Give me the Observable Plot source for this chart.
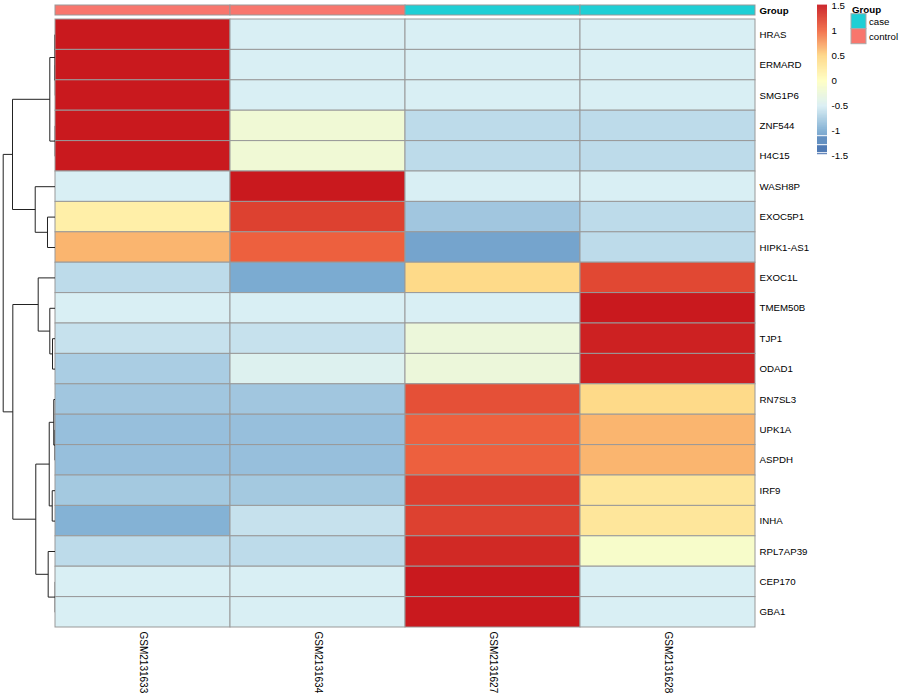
<!DOCTYPE html>
<html><head><meta charset="utf-8">
<script src="https://cdn.jsdelivr.net/npm/d3@7"></script>
<script src="https://cdn.jsdelivr.net/npm/@observablehq/plot@0.6"></script>
<style>
html,body{margin:0;padding:0;background:#fff;}
#chart{position:relative;width:900px;height:700px;font-family:"Liberation Sans",Arial,sans-serif;}
#chart > svg{position:absolute;left:0;top:0;}
</style></head><body><div id="chart"></div>
<script>
// ---- data ----
const samples = ["GSM2131633","GSM2131634","GSM2131627","GSM2131628"];
const sampleGroup = ["control","control","case","case"];
const groupLevels = ["case","control"];
const groupColors = ["#1FCFD5","#F8766D"];
const genes = ["HRAS","ERMARD","SMG1P6","ZNF544","H4C15","WASH8P","EXOC5P1","HIPK1-AS1",
  "EXOC1L","TMEM50B","TJP1","ODAD1","RN7SL3","UPK1A","ASPDH","IRF9","INHA","RPL7AP39","CEP170","GBA1"];
// row-scaled values, one array per sample (in gene order)
const GSM2131633 = [1.5,1.5,1.5,1.5,1.5,-0.5,0.2,0.65,-0.65,-0.5,-0.6,-0.75,-0.8,-0.85,-0.85,-0.78,-0.95,-0.65,-0.5,-0.5];
const GSM2131634 = [-0.5,-0.5,-0.5,-0.2,-0.2,1.5,1.25,1.05,-1.0,-0.5,-0.6,-0.45,-0.8,-0.85,-0.85,-0.78,-0.6,-0.65,-0.5,-0.5];
const GSM2131627 = [-0.5,-0.5,-0.5,-0.65,-0.65,-0.5,-0.8,-1.05,0.45,-0.5,-0.25,-0.25,1.15,1.05,1.05,1.26,1.25,1.4,1.5,1.5];
const GSM2131628 = [-0.5,-0.5,-0.5,-0.65,-0.65,-0.5,-0.65,-0.65,1.2,1.5,1.45,1.45,0.45,0.65,0.65,0.3,0.3,-0.1,-0.5,-0.5];
const sampleValues = [GSM2131633, GSM2131634, GSM2131627, GSM2131628];
// row dendrogram, hclust-style merges: [a, b, height]; negative = leaf (1-based), positive = earlier merge
const rowMerges = [
  [-2,-3,0.03],[-4,-5,0.05],[-19,-20,0.05],[-14,-15,0.08],[-1,1,0.1],[-13,4,0.33],
  [-11,-12,0.57],[-16,-17,0.63],[5,2,1.09],[-10,7,1.09],[6,8,1.2],[-18,3,1.4],
  [-7,-8,1.53],[-9,10,3.31],[11,12,3.77],[-6,13,3.88],[14,15,8.16],[9,16,8.22],[18,17,10]
];
// colour scale stops
const colorStops = [-1.5,-1,-0.5,0,0.5,1,1.5];
const colorRange = ["#3F68AA","#7BABD1","#D9EFF4","#FFFFC0","#FED683","#F16841","#C9191E"];
const legendTicks = [-1.5,-1,-0.5,0,0.5,1,1.5];

// ---- build ----
const chart = document.getElementById("chart");
const FONT = '"Liberation Sans",Arial,sans-serif';
const FS = 9.7;
const colorScale = {type:"linear", domain: colorStops, range: colorRange, clamp: true};

const cells = genes.flatMap((g,i) => samples.map((s,j) => ({gene:g, sample:s, value: sampleValues[j][i]})));

const heat = Plot.plot({
  width:900, height:700, marginLeft:55, marginRight:145, marginTop:19, marginBottom:73,
  style:{background:"transparent", fontFamily:FONT, fontSize:FS+"px", color:"#000"},
  x:{type:"band", domain:samples, padding:0, round:false, label:null},
  y:{type:"band", domain:genes, padding:0, round:false, label:null},
  color: colorScale,
  marks:[
    Plot.cell(cells, {x:"sample", y:"gene", fill:"value", stroke:"#999", strokeWidth:1, inset:0}),
    Plot.axisY({anchor:"right", tickSize:0, tickPadding:4, fontSize:FS, label:null}),
    Plot.axisX({anchor:"bottom", tickSize:0, tickPadding:4, tickRotate:90, fontSize:10, label:null})
  ]
});
chart.appendChild(heat);

// annotation bar
const annot = samples.map((s,j) => ({sample:s, row:"Group", group: sampleGroup[j]}));
const ann = Plot.plot({
  width:900, height:19, marginLeft:55, marginRight:145, marginTop:5, marginBottom:4,
  style:{background:"transparent", fontFamily:FONT, fontSize:FS+"px", color:"#000"},
  x:{type:"band", domain:samples, padding:0, round:false, axis:null},
  y:{type:"band", domain:["Group"], padding:0, round:false, label:null},
  color:{domain:groupLevels, range:groupColors},
  marks:[
    Plot.cell(annot, {x:"sample", y:"row", fill:"group", stroke:"#999", strokeWidth:1, inset:0}),
    Plot.axisY({anchor:"right", tickSize:0, tickPadding:4, fontSize:FS, fontWeight:"bold", label:null})
  ]
});
chart.appendChild(ann);

// dendrogram layout from merges
const nodeY = [], nodeH = [];
const pos = k => k < 0 ? {y: -k - 0.5, h: 0} : {y: nodeY[k-1], h: nodeH[k-1]};
const segs = [];
rowMerges.forEach(([a,b,h]) => {
  const A = pos(a), B = pos(b);
  segs.push({x1:h, y1:A.y, x2:h, y2:B.y});
  segs.push({x1:A.h, y1:A.y, x2:h, y2:A.y});
  segs.push({x1:B.h, y1:B.y, x2:h, y2:B.y});
  nodeY.push((A.y + B.y)/2); nodeH.push(h);
});
const dendro = Plot.plot({
  width:55, height:700, marginLeft:2.7, marginRight:0, marginTop:19, marginBottom:73,
  style:{background:"transparent"},
  x:{domain:[10,0], axis:null},
  y:{domain:[20,0], axis:null},
  marks:[ Plot.link(segs, {x1:"x1", y1:"y1", x2:"x2", y2:"y2", stroke:"#222", strokeWidth:1}) ]
});
chart.appendChild(dendro);

// colour legend
const stripes = [];
const step = 0.01;
for (let v = -1.09; v < 1.52; v += step) stripes.push({lo:v, hi:Math.min(v + step*1.6, 1.52), mid:v + step/2});
stripes.push({lo:-1.27, hi:-1.11, mid:-1.2});
stripes.push({lo:-1.43, hi:-1.29, mid:-1.36});
stripes.push({lo:-1.47, hi:-1.45, mid:-1.46});
const leg = Plot.plot({
  width:100, height:160, marginLeft:17, marginRight:73, marginTop:5.7, marginBottom:4.3,
  style:{background:"transparent", fontFamily:FONT, fontSize:FS+"px", color:"#000"},
  x:{domain:[0,1], axis:null},
  y:{domain:[-1.5,1.5], label:null},
  color: colorScale,
  marks:[
    Plot.rect(stripes, {x1:0, x2:1, y1:"lo", y2:"hi", fill:"mid"}),
    Plot.axisY({anchor:"right", ticks:legendTicks, tickSize:0, tickPadding:4, fontSize:FS, tickFormat:d => String(d), label:null})
  ]
});
leg.style.left = "800px";
chart.appendChild(leg);

// group legend
const gsvg = d3.create("svg").attr("width",60).attr("height",50)
  .style("position","absolute").style("left","840px").style("top","0px")
  .style("font-family", FONT).style("font-size", FS+"px");
gsvg.append("text").attr("x",12).attr("y",13.4).attr("font-weight","bold").text("Group");
groupLevels.forEach((g,i) => {
  gsvg.append("rect").attr("x",11).attr("y",13.7 + i*15).attr("width",15).attr("height",15)
    .attr("fill", groupColors[i]).attr("stroke","#aaa").attr("stroke-width",1);
  gsvg.append("text").attr("x",29).attr("y",21.2 + i*15).attr("dy","0.35em").text(g);
});
chart.appendChild(gsvg.node());
</script></body></html>
